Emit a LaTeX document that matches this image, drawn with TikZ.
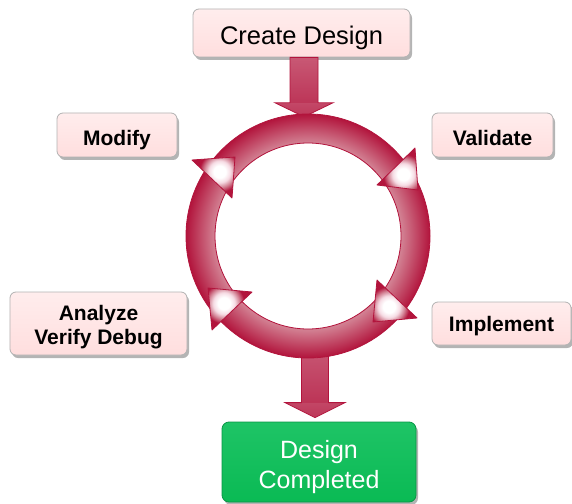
\documentclass[tikz,border=0pt]{standalone}
\usepackage{fontspec}
\setmainfont{Liberation Sans}
\usetikzlibrary{shadows,calc}

\definecolor{ringdark}{RGB}{178,20,60}
\definecolor{ringlight}{RGB}{210,128,146}
\definecolor{ringpale}{RGB}{246,220,228}
\definecolor{boxpink}{RGB}{255,222,222}
\definecolor{boxedge}{RGB}{178,178,178}
\definecolor{donegreen}{RGB}{10,186,84}
\definecolor{donegreentop}{RGB}{30,196,102}
\definecolor{donegreenedge}{RGB}{8,150,70}

% ring: lighter along the inner rim, deep crimson at the outer rim
% (the path's box fills the central 50bp square of the shading)
\pgfdeclareradialshading{ringshading}{\pgfpoint{0bp}{0bp}}{%
  color(0bp)=(white); color(18.8bp)=(ringlight); color(19.2bp)=(ringlight);
  color(25bp)=(ringdark); color(50bp)=(ringdark)}
% arrow heads on the ring: pale centre, crimson rim
\pgfdeclareradialshading{headshading}{\pgfpoint{0bp}{0bp}}{%
  color(0bp)=(white); color(5bp)=(white); color(9bp)=(ringpale);
  color(13bp)=(ringlight); color(17bp)=(ringdark); color(50bp)=(ringdark)}

% a clockwise head on the ring, given its three corners
\newcommand\ringhead[3]{%
  \coordinate (hA) at #1;
  \coordinate (hB) at #2;
  \coordinate (hC) at #3;
  \begin{scope}
    \clip (hA) -- (hB) -- (hC) -- cycle;
    \shade[shading=headshading] (barycentric cs:hA=1,hB=1,hC=1) circle[radius=30];
  \end{scope}
  \draw[ringdark, line width=0.8bp, line join=round] (hA) -- (hB) -- (hC) -- cycle;}

\begin{document}
\begin{tikzpicture}[x=1bp,y=-1bp,
  stage/.style={draw=boxedge, line width=0.8bp, rounded corners=6bp,
    top color=boxpink!55!white, bottom color=boxpink,
    drop shadow={shadow xshift=2bp, shadow yshift=-3bp, opacity=0.45, fill=black!65},
    font=\fontsize{21bp}{24bp}\selectfont\bfseries, align=center, inner sep=0pt,
    text depth=0bp},
  done/.style={draw=donegreenedge, line width=0.8bp, rounded corners=7bp,
    top color=donegreentop, bottom color=donegreen, text=white,
    drop shadow={shadow xshift=2bp, shadow yshift=-3bp, opacity=0.45, fill=black!65},
    font=\fontsize{25bp}{30bp}\selectfont, align=center, inner sep=0pt,
    text depth=0bp},
  flowarrow/.style={top color=ringdark!55, middle color=white, bottom color=ringdark!85},
  shaftfade/.style={left color=ringdark, middle color=white, right color=ringdark, opacity=0.35},
  flowedge/.style={draw=ringdark, line width=0.8bp},
]
\useasboundingbox (0,0) rectangle (572,504);

% stages around the cycle
\node[stage, minimum width=217bp, minimum height=48bp, text height=24bp,
      font=\fontsize{25.5bp}{30bp}\selectfont] (create) at (301.5,33) {Create Design};
\node[stage, minimum width=120bp, minimum height=44bp, text height=22bp] (modify) at (117,135) {Modify};
\node[stage, minimum width=121bp, minimum height=44bp, text height=22bp] (validate) at (492.5,135) {Validate};
\node[stage, minimum width=139bp, minimum height=43bp, text height=16.5bp] (implement) at (501.5,323.5) {Implement};
\node[stage, minimum width=177bp, minimum height=63bp, text height=41bp] (analyze) at (98.5,323.5) {Analyze\\Verify Debug};
\node[done, minimum width=194bp, minimum height=80bp, text height=52bp] (done) at (319,462) {Design\\Completed};

% the cycle ring
\node[circle, minimum size=244bp, inner sep=0pt] (ring) at (308,236) {};

% entry arrow: Create Design -> ring
\coordinate (topTip) at ($(ring.north)+(-4,3)$);
\coordinate (topTail) at (create.south -| topTip);
\shade[flowarrow] ($(topTail)+(-14,0)$) -- ($(topTail)+(14,0)$)
  -- ($(topTip)+(14,-14)$) -- ($(topTip)+(29,-14)$) -- (topTip)
  -- ($(topTip)+(-29,-14)$) -- ($(topTip)+(-14,-14)$) -- cycle;
\shade[shaftfade] ($(topTail)+(-14,0)$) rectangle ($(topTip)+(14,-14)$);
\draw[flowedge] ($(topTail)+(-14,0)$) -- ($(topTail)+(14,0)$)
  -- ($(topTip)+(14,-14)$) -- ($(topTip)+(29,-14)$) -- (topTip)
  -- ($(topTip)+(-29,-14)$) -- ($(topTip)+(-14,-14)$) -- cycle;

% exit arrow: ring -> Design Completed
\coordinate (botTip) at ($(done.north)+(-4,-4)$);
\coordinate (botTail) at ($(ring.south)+(7,-12)$);
\shade[flowarrow] ($(botTail)+(-13.5,0)$) -- ($(botTail)+(13.5,0)$)
  -- ($(botTip)+(13.5,-15)$) -- ($(botTip)+(30,-15)$) -- (botTip)
  -- ($(botTip)+(-30,-15)$) -- ($(botTip)+(-13.5,-15)$) -- cycle;
\shade[shaftfade] ($(botTail)+(-13.5,0)$) rectangle ($(botTip)+(13.5,-15)$);
\draw[flowedge] ($(botTail)+(-13.5,0)$) -- ($(botTail)+(13.5,0)$)
  -- ($(botTip)+(13.5,-15)$) -- ($(botTip)+(30,-15)$) -- (botTip)
  -- ($(botTip)+(-30,-15)$) -- ($(botTip)+(-13.5,-15)$) -- cycle;

% ring body
\shade[shading=ringshading, even odd rule, draw=ringdark, line width=0.8bp]
  (ring.center) circle[radius=122] (ring.center) circle[radius=93];

% clockwise heads on the ring
\ringhead{(235,157)}{(192,160)}{(232,198)}
\ringhead{(418,190)}{(415,148)}{(377,185)}
\ringhead{(373,322)}{(377,280)}{(417,318)}
\ringhead{(208,288)}{(252,292)}{(212,330)}
\end{tikzpicture}
\end{document}
